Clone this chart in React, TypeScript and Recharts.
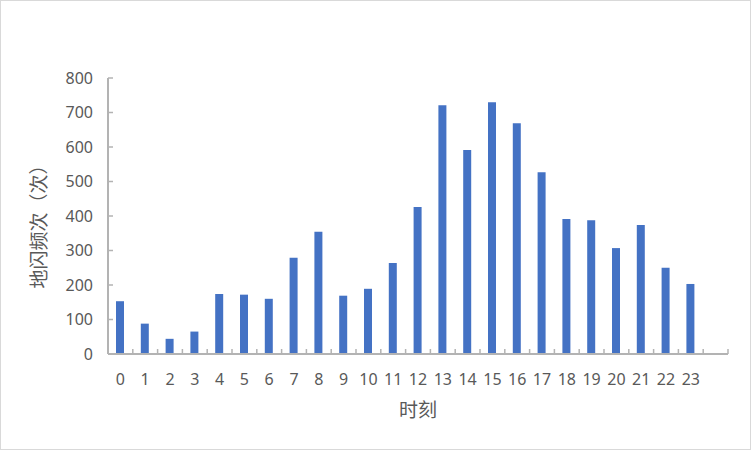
import { BarChart, Bar, XAxis, YAxis, Label } from "recharts";

// hour of day (extra empty slot at the end, like the source axis)
const HOURS = [
  "0", "1", "2", "3", "4", "5", "6", "7", "8", "9", "10", "11",
  "12", "13", "14", "15", "16", "17", "18", "19", "20", "21", "22", "23", "",
];
// flash counts per hour
const FLASHES = [
  153, 88, 44, 65, 174, 172, 160, 279, 354, 169, 189, 264,
  426, 721, 591, 730, 669, 527, 391, 388, 307, 374, 250, 203, null,
];
const Y_TICKS = [0, 100, 200, 300, 400, 500, 600, 700, 800];

const W = 752;
const H = 451;
const MARGIN = { top: 78, right: 24, bottom: 57, left: 8 };
const Y_AXIS_W = 100;
const X_AXIS_H = 40;
const PLOT_W = W - MARGIN.left - MARGIN.right - Y_AXIS_W;
const BAND = PLOT_W / HOURS.length;

const AXIS = "#b3b3b3";
const TEXT = "#595959";
const NUM_FONT = '"Noto Sans", "Noto Sans CJK SC", sans-serif';
const CJK_FONT = '"Noto Sans CJK SC", "Noto Sans", sans-serif';

const data = HOURS.map((h, i) => ({ hour: h, flashes: FLASHES[i] }));

function HourTick({ x, y, payload, index }: any) {
  const half = BAND / 2;
  return (
    <g>
      <line x1={x - half} x2={x - half} y1={y} y2={y - 5} stroke={AXIS} strokeWidth={1.5} />
      {index === HOURS.length - 1 && (
        <line x1={x + half} x2={x + half} y1={y} y2={y - 5} stroke={AXIS} strokeWidth={1.5} />
      )}
      <text x={x} y={y + 31} textAnchor="middle" fontSize={16} fontFamily={NUM_FONT} fill={TEXT}>
        {payload.value}
      </text>
    </g>
  );
}

function CountTick({ x, y, payload }: any) {
  return (
    <g>
      <line x1={x} x2={x + 5} y1={y} y2={y} stroke={AXIS} strokeWidth={1.5} />
      <text x={x - 15} y={y} dy="0.36em" textAnchor="end" fontSize={16} fontFamily={NUM_FONT} fill={TEXT}>
        {payload.value}
      </text>
    </g>
  );
}

function YTitle({ viewBox }: any) {
  const cx = viewBox.x + 31;
  const cy = viewBox.y + viewBox.height / 2 + 6;
  return (
    <text
      x={cx} y={cy} dy="0.36em" textAnchor="middle"
      transform={`rotate(-90 ${cx} ${cy})`}
      fontSize={19} fontFamily={CJK_FONT} fill={TEXT}
    >
      地闪频次（次）
    </text>
  );
}

function XTitle({ viewBox }: any) {
  const cx = viewBox.x + viewBox.width / 2;
  const cy = viewBox.y + 56;
  return (
    <text x={cx} y={cy} dy="0.36em" textAnchor="middle" fontSize={19} fontFamily={CJK_FONT} fill={TEXT}>
      时刻
    </text>
  );
}

export default function App() {
  return (
    <div style={{ position: "absolute", left: 0, top: 0, width: W, height: H, background: "#fff" }}>
      <div
        style={{
          position: "absolute", left: 0, top: 0, width: W - 1, height: H - 1,
          boxSizing: "border-box", border: "1.5px solid #d9d9d9", pointerEvents: "none",
        }}
      />
      <BarChart width={W} height={H} data={data} margin={MARGIN}>
        <XAxis
          dataKey="hour" interval={0} height={X_AXIS_H}
          tickSize={0} tickMargin={0} tickLine={false}
          axisLine={{ stroke: AXIS, strokeWidth: 2 }}
          tick={<HourTick />}
        >
          <Label content={<XTitle />} />
        </XAxis>
        <YAxis
          domain={[0, 800]} ticks={Y_TICKS} width={Y_AXIS_W}
          tickSize={0} tickMargin={0} tickLine={false}
          axisLine={{ stroke: AXIS, strokeWidth: 2 }}
          tick={<CountTick />}
        >
          <Label content={<YTitle />} />
        </YAxis>
        <Bar dataKey="flashes" fill="#4472C4" barSize={8} isAnimationActive={false} />
      </BarChart>
    </div>
  );
}
